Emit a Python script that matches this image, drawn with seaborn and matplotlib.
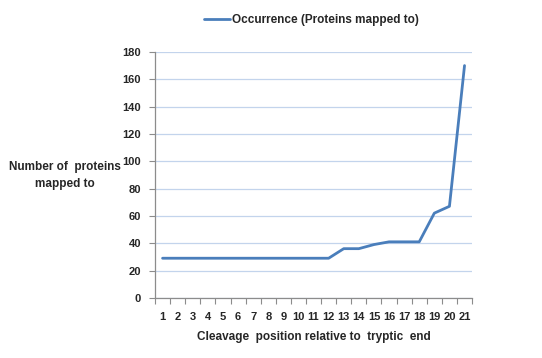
import matplotlib
matplotlib.use("Agg")
import matplotlib.pyplot as plt
import seaborn as sns
import pandas as pd
from matplotlib.ticker import MultipleLocator, FixedLocator
from matplotlib.lines import Line2D

positions = list(range(1, 22))
occurrence = [29, 29, 29, 29, 29, 29, 29, 29, 29, 29, 29, 29,
              36, 36, 39, 41, 41, 41, 62, 67, 170]
series_name = "Occurrence (Proteins mapped to)"

df = pd.DataFrame({"pos": positions, "val": occurrence, "series": series_name})

sns.set_style("white")
plt.rcParams['font.family'] = ['Liberation Sans', 'DejaVu Sans']

fig = plt.figure(figsize=(5.42, 3.58), dpi=100)
ax = fig.add_axes([0.286, 0.168, 0.585, 0.687])

sns.lineplot(data=df, x="pos", y="val", hue="series", palette=["#4a7ebb"],
             linewidth=2.0, ax=ax, legend=False)

ax.set_xlim(0.5, 21.5)
ax.set_ylim(0, 180)
ax.yaxis.set_major_locator(MultipleLocator(20))
ax.grid(axis="y", color="#c3d4ec", linewidth=0.9)
ax.set_axisbelow(True)
for s in ["top", "right"]:
    ax.spines[s].set_visible(False)
for s in ["left", "bottom"]:
    ax.spines[s].set_color("#8c8c8c")
    ax.spines[s].set_linewidth(0.9)

ax.set_xticks(positions)
ax.set_xticklabels([str(p) for p in positions], fontsize=8, fontweight="bold")
ax.xaxis.set_minor_locator(FixedLocator([p + 0.5 for p in range(0, 22)]))
ax.tick_params(axis="x", which="major", length=0, pad=10)
ax.tick_params(axis="x", which="minor", length=4, color="#8c8c8c", width=0.8, direction="out")
ax.tick_params(axis="y", length=4, color="#8c8c8c", width=0.8, labelsize=8, pad=6)
for lbl in ax.get_yticklabels():
    lbl.set_fontweight("bold")
ax.tick_params(bottom=True, left=True, which="both")

ax.set_xlabel("Cleavage  position relative to  tryptic  end", fontsize=8.5,
              fontweight="bold", labelpad=7)
ax.set_ylabel("")
fig.text(0.12, 0.51, "Number of  proteins\nmapped to", fontsize=8.5, fontweight="bold",
         ha="center", va="center", linespacing=1.5)

h = Line2D([0], [0], color="#4a7ebb", linewidth=2.0)
fig.legend([h], [series_name], loc="center", bbox_to_anchor=(0.575, 0.945),
           frameon=False, prop={"size": 8.5, "weight": "bold"}, handlelength=2.2,
           handletextpad=0.2)

fig.savefig("out.png", dpi=100)
